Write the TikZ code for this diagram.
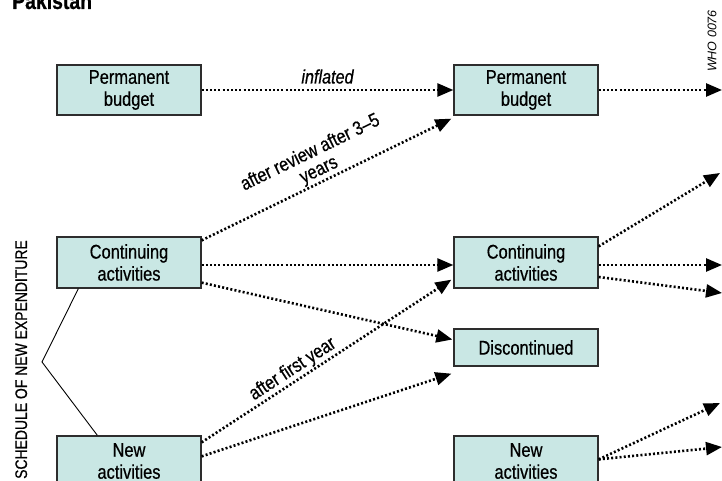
\documentclass[tikz,border=0pt]{standalone}
\usepackage{fontspec}
\setmainfont{Liberation Sans}[FakeStretch=0.83, FakeBold=0.6]
\newfontfamily\plainsans{Liberation Sans}
\usetikzlibrary{arrows.meta,calc}
\definecolor{boxfill}{RGB}{201,231,228}
\definecolor{boxline}{RGB}{45,45,45}
\begin{document}
\begin{tikzpicture}[x=1pt,y=-1pt,
  box/.style={draw=boxline, line width=1.3pt, fill=boxfill, minimum width=144pt,
    inner sep=0pt, align=center, font=\fontsize{19.8}{22}\selectfont},
  flow/.style={line width=2.6pt, dash pattern=on 2pt off 2.2pt,
    -{Triangle[length=16pt,width=13pt]}},
  lbl/.style={font=\fontsize{19.5}{19.5}\selectfont, inner sep=1pt, align=center},
  brace/.style={line width=0.9pt}
]
\useasboundingbox (0,0) rectangle (722,481);

% title (cut at the top)
\node[anchor=base west, inner sep=0pt, font=\fontsize{23.4}{23.4}\selectfont\bfseries] (title) at (12,9) {Pakistan};
% code
\node[rotate=90, inner sep=0pt, font=\plainsans\fontsize{12.5}{12.5}\selectfont\itshape] (code) at (712,41) {WHO 0076};

% boxes
\node[box, minimum height=50pt] (pl) at (129,90) {Permanent\\budget};
\node[box, minimum height=50pt] (pr) at (526,90) {Permanent\\budget};
\node[box, minimum height=51pt] (cl) at (129,262.5) {Continuing\\activities};
\node[box, minimum height=51pt] (cr) at (526,262.5) {Continuing\\activities};
\node[box, minimum height=37pt] (dr) at (526,347.5) {Discontinued};
\node[box, minimum height=50pt] (nl) at (129,461) {New\\activities};
\node[box, minimum height=50pt] (nr) at (526,461) {New\\activities};

% side label
\node[rotate=90, anchor=base east, inner sep=0pt, font=\fontsize{16.8}{16.8}\selectfont] (side) at (27,240) {SCHEDULE OF NEW EXPENDITURE};

% free ends
\coordinate (e1) at (722,90);
\coordinate (e2) at (720,173);
\coordinate (e3) at (722,265);
\coordinate (e4) at (722,293);
\coordinate (e5) at (720,403);
\coordinate (e6) at (722,447);
\coordinate (bv) at (42,362);

% connectors
\draw[flow] (pl.east) -- node[lbl, above=4pt, font=\fontsize{19.5}{19.5}\selectfont\itshape] (linf) {inflated} (pr.west);
\draw[flow] (pr.east) -- (e1);
\draw[flow] ([yshift=-4pt]cl.north east) -- node[lbl, pos=0.49, sloped, anchor=south] (lrev) {after review after 3–5\\years} ([xshift=-2pt,yshift=-3pt]pr.south west);
\draw[flow] ([yshift=-2.5pt]cl.east) -- ([yshift=-2.5pt]cr.west);
\draw[flow] ([yshift=6pt]cl.south east) -- ([xshift=-1pt,yshift=8pt]dr.west);
\draw[flow] ([yshift=-7pt]nl.north east) -- node[lbl, pos=0.39, sloped, anchor=south] (lfirst) {after first year} ([xshift=-2pt,yshift=9pt]cr.south west);
\draw[flow] ([yshift=-21pt]nl.north east) -- ([xshift=-2pt,yshift=-7pt]dr.south west);
\draw[flow] ([yshift=-10pt]cr.north east) -- (e2);
\draw[flow] ([yshift=-2.5pt]cr.east) -- (e3);
\draw[flow] ([yshift=-14.5pt]cr.east) -- (e4);
\draw[flow] ([yshift=-24pt]nr.north east) -- (e5);
\draw[flow] ([yshift=-24pt]nr.north east) -- (e6);

% bracket
\draw[brace] ([xshift=22pt]cl.south west) -- (bv) -- ([xshift=41pt]nl.north west);
\end{tikzpicture}
\end{document}
